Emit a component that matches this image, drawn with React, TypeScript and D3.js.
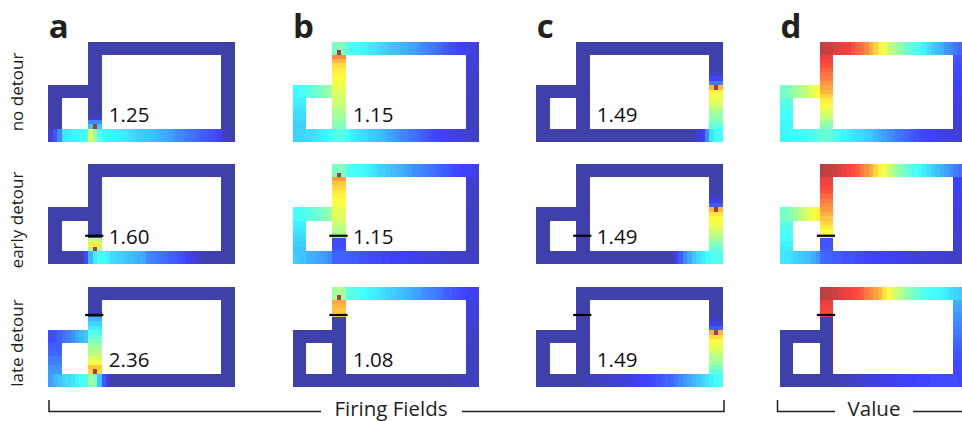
import { useEffect, useRef } from 'react'
import * as d3 from 'd3'

const WIDTH = 962
const HEIGHT = 421
const COLS = 42 // maze grid, in cells
const ROWS = 23
const PANEL_W = 186.5
const PANEL_H = 100
const PANEL_X = [48.3, 292.5, 536.3, 780]
const PANEL_Y = [41.7, 164, 286.7]
const FONT = '"Open Sans", "DejaVu Sans", sans-serif'
const INK = '#231f20'

const MODELS = ['a', 'b', 'c', 'd']
const CONDITIONS = ['no detour', 'early detour', 'late detour']
const SCORES = [
  ['1.25', '1.15', '1.49', null],
  ['1.60', '1.15', '1.49', null],
  ['2.36', '1.08', '1.49', null],
]
// maze row where the detour barrier sits, per condition
const BARRIER_ROW = [null, 16.5, 6.5]

const z = (n: number) => new Array(n).fill(0)

// panel order in every table below: a1 b1 c1 d1, a2 b2 c2 d2, a3 b3 c3 d3
// top corridor, cols 9..41
const TOP = [
  z(33),
  [0.45, 0.47, 0.45, 0.4, 0.39, 0.38, 0.37, 0.36, 0.35, 0.34, 0.33, 0.32, 0.31, 0.3, 0.29, 0.28, 0.27, 0.26, 0.25, 0.24, 0.22, 0.21, 0.2, 0.19, 0.18, 0.16, 0.15, 0.14, 0.13, 0.12, 0.1, 0.08, 0.07],
  z(33),
  [0.96, 0.95, 0.94, 0.92, 0.9, 0.89, 0.88, 0.86, 0.83, 0.81, 0.78, 0.73, 0.69, 0.64, 0.61, 0.56, 0.53, 0.5, 0.47, 0.44, 0.42, 0.4, 0.38, 0.36, 0.33, 0.31, 0.29, 0.27, 0.24, 0.22, 0.2, 0.18, 0.16],
  z(33),
  [0.45, 0.46, 0.45, 0.4, 0.39, 0.38, 0.37, 0.36, 0.35, 0.34, 0.32, 0.31, 0.3, 0.29, 0.28, 0.27, 0.26, 0.25, 0.23, 0.22, 0.21, 0.2, 0.19, 0.18, 0.17, 0.16, 0.15, 0.14, 0.13, 0.12, 0.11, 0.1, 0.09],
  z(33),
  [0.97, 0.96, 0.95, 0.94, 0.92, 0.9, 0.88, 0.86, 0.84, 0.8, 0.77, 0.74, 0.68, 0.64, 0.61, 0.56, 0.52, 0.49, 0.46, 0.43, 0.41, 0.39, 0.37, 0.35, 0.33, 0.31, 0.29, 0.27, 0.25, 0.23, 0.21, 0.19, 0.17],
  z(33),
  [0.5, 0.52, 0.5, 0.42, 0.4, 0.39, 0.38, 0.37, 0.36, 0.35, 0.34, 0.33, 0.32, 0.31, 0.3, 0.29, 0.28, 0.27, 0.26, 0.25, 0.23, 0.22, 0.21, 0.2, 0.19, 0.17, 0.16, 0.15, 0.14, 0.13, 0.12, 0.11, 0.1],
  z(33),
  [0.97, 0.96, 0.95, 0.94, 0.92, 0.9, 0.89, 0.87, 0.86, 0.84, 0.8, 0.78, 0.75, 0.72, 0.66, 0.62, 0.58, 0.55, 0.52, 0.49, 0.46, 0.44, 0.42, 0.4, 0.39, 0.38, 0.37, 0.36, 0.35, 0.33, 0.32, 0.31, 0.3],
]

// middle vertical corridor, rows 3..19 (cols 9..11)
const MID = [
  [...z(14), 0.05, 0.22, 0.3],
  [0.78, 0.72, 0.67, 0.65, 0.64, 0.62, 0.61, 0.6, 0.58, 0.57, 0.56, 0.55, 0.53, 0.51, 0.5, 0.48, 0.46],
  z(17),
  [0.9, 0.88, 0.86, 0.83, 0.81, 0.79, 0.76, 0.74, 0.72, 0.68, 0.65, 0.63, 0.6, 0.57, 0.55, 0.5, 0.47],
  [...z(14), 0.55, 0.65, 0.5],
  [0.75, 0.7, 0.67, 0.65, 0.64, 0.62, 0.61, 0.6, 0.59, 0.58, 0.56, 0.54, 0.52, 0.5, 0.14, 0.14, 0.15],
  z(17),
  [0.9, 0.89, 0.87, 0.85, 0.82, 0.8, 0.78, 0.76, 0.73, 0.7, 0.68, 0.65, 0.63, 0.62, 0.15, 0.15, 0.16],
  [...z(4), 0.28, 0.32, 0.35, 0.4, 0.43, 0.46, 0.5, 0.52, 0.54, 0.58, 0.62, 0.7, 0.68],
  [0.74, 0.72, 0.7, 0.68, ...z(13)],
  z(17),
  [0.9, 0.89, 0.88, 0.87, ...z(13)],
]

// right corridor, rows 3..19 (cols 39..41)
const RIGHT = [
  z(17),
  [0.07, 0.07, 0.06, 0.06, 0.06, 0.05, 0.05, 0.05, 0.05, 0.04, 0.04, 0.04, 0.04, 0.04, 0.03, 0.03, 0.03],
  [...z(4), 0.04, 0.13, 0.2, 0.72, 0.64, 0.61, 0.59, 0.57, 0.53, 0.5, 0.48, 0.45, 0.42],
  [0.15, 0.15, 0.14, 0.14, 0.13, 0.13, 0.12, 0.12, 0.11, 0.1, 0.1, 0.09, 0.08, 0.08, 0.07, 0.07, 0.06],
  z(17),
  [0.06, 0.06, 0.05, 0.05, 0.05, 0.05, 0.04, 0.04, 0.04, 0.04, 0.03, 0.03, 0.03, 0.03, 0.03, 0.03, 0.03],
  [...z(4), 0.03, 0.08, 0.16, 0.72, 0.66, 0.63, 0.61, 0.59, 0.56, 0.53, 0.5, 0.46, 0.43],
  [0.12, 0.12, 0.11, 0.11, 0.1, 0.1, 0.09, 0.09, 0.08, 0.08, 0.07, 0.07, 0.06, 0.06, 0.06, 0.05, 0.05],
  z(17),
  [0.09, 0.08, 0.08, 0.07, 0.07, 0.06, 0.06, 0.05, 0.05, 0.04, 0.04, 0.04, 0.03, 0.03, 0.03, 0.03, 0.03],
  [...z(4), 0.03, 0.08, 0.16, 0.72, 0.67, 0.63, 0.6, 0.58, 0.55, 0.52, 0.5, 0.46, 0.42],
  [0.27, 0.26, 0.25, 0.24, 0.23, 0.22, 0.21, 0.2, 0.19, 0.18, 0.17, 0.16, 0.15, 0.15, 0.14, 0.14, 0.13],
]

// bottom corridor, cols 0..41 (rows 20..22)
const BOTTOM = [
  [0.05, 0.15, 0.22, 0.34, 0.35, 0.36, 0.36, 0.37, 0.38, 0.58, 0.5, 0.4, 0.37, 0.36, 0.36, 0.35, 0.35, 0.34, 0.33, 0.32, 0.31, 0.3, 0.3, 0.29, 0.28, 0.27, 0.26, 0.25, 0.23, 0.22, 0.21, 0.2, 0.19, 0.18, 0.17, 0.16, 0.15, 0.14, 0.12, 0.04, 0.02, 0],
  [0.31, 0.32, 0.32, 0.33, 0.33, 0.34, 0.35, 0.36, 0.37, 0.4, 0.41, 0.4, 0.38, 0.35, 0.34, 0.33, 0.32, 0.31, 0.3, 0.29, 0.28, 0.26, 0.25, 0.24, 0.22, 0.21, 0.2, 0.19, 0.18, 0.16, 0.15, 0.14, 0.13, 0.12, 0.11, 0.09, 0.08, 0.07, 0.06, 0.05, 0.05, 0.04],
  [...z(36), 0.05, 0.12, 0.22, 0.34, 0.37, 0.38],
  [0.36, 0.36, 0.37, 0.37, 0.38, 0.38, 0.39, 0.4, 0.41, 0.43, 0.43, 0.42, 0.4, 0.37, 0.36, 0.35, 0.34, 0.33, 0.32, 0.31, 0.3, 0.28, 0.26, 0.25, 0.23, 0.22, 0.2, 0.19, 0.18, 0.16, 0.15, 0.14, 0.13, 0.12, 0.11, 0.09, 0.08, 0.07, 0.06, 0.06, 0.05, 0.05],
  [...z(8), 0.14, 0.28, 0.35, 0.38, 0.38, 0.36, 0.33, 0.32, 0.31, 0.3, 0.29, 0.28, 0.27, 0.26, 0.22, 0.21, 0.2, 0.19, 0.18, 0.17, 0.16, 0.15, 0.14, 0.12, 0.08, 0.05, 0.03, ...z(7)],
  [0.31, 0.3, 0.3, 0.28, 0.27, 0.26, 0.25, 0.24, 0.22, 0.17, 0.17, 0.17, 0.17, 0.16, 0.16, 0.15, 0.15, 0.14, 0.14, 0.14, 0.13, 0.13, 0.12, 0.12, 0.11, 0.11, 0.1, 0.1, 0.09, 0.09, 0.08, 0.07, 0.07, 0.06, 0.06, 0.05, 0.05, 0.05, 0.04, 0.04, 0.04, 0.04],
  [...z(31), 0.1, 0.16, 0.22, 0.26, 0.3, 0.33, 0.35, 0.37, 0.39, 0.4, 0.4],
  [0.35, 0.34, 0.33, 0.32, 0.31, 0.3, 0.29, 0.27, 0.24, 0.18, 0.17, 0.17, 0.16, 0.16, 0.15, 0.15, 0.15, 0.14, 0.14, 0.13, 0.13, 0.12, 0.12, 0.11, 0.11, 0.1, 0.1, 0.09, 0.09, 0.08, 0.08, 0.07, 0.07, 0.06, 0.06, 0.06, 0.05, 0.05, 0.05, 0.04, 0.04, 0.04],
  [0.25, 0.28, 0.3, 0.32, 0.33, 0.34, 0.36, 0.38, 0.4, 0.5, 0.46, 0.3, 0.16, 0.08, ...z(28)],
  [...z(36), 0.02, 0.02, 0.03, 0.03, 0.03, 0.03],
  [...z(11), 0.03, 0.03, 0.04, 0.04, 0.05, 0.05, 0.06, 0.06, 0.07, 0.08, 0.09, 0.1, 0.11, 0.12, 0.13, 0.14, 0.15, 0.16, 0.17, 0.18, 0.2, 0.22, 0.24, 0.26, 0.28, 0.3, 0.32, 0.34, 0.36, 0.38, 0.39],
  [...z(12), 0.02, 0.03, 0.03, 0.04, 0.05, 0.05, 0.06, 0.07, 0.07, 0.08, 0.08, 0.09, 0.09, 0.1, 0.1, 0.11, 0.11, 0.12, 0.12, 0.13, 0.13, 0.13, 0.14, 0.14, 0.14, 0.14, 0.14, 0.14, 0.13, 0.13],
]

// small loop, top arm cols 0..8 (rows 10..12)
const SMALL_TOP = [
  z(9), [0.37, 0.38, 0.39, 0.41, 0.42, 0.44, 0.46, 0.48, 0.5], z(9), [0.44, 0.45, 0.47, 0.5, 0.52, 0.54, 0.57, 0.6, 0.62],
  z(9), [0.38, 0.38, 0.39, 0.41, 0.42, 0.43, 0.45, 0.47, 0.49], z(9), [0.44, 0.45, 0.47, 0.5, 0.53, 0.56, 0.59, 0.62, 0.64],
  [0.14, 0.15, 0.17, 0.19, 0.21, 0.23, 0.26, 0.28, 0.3], z(9), z(9), z(9),
]

// small loop, left arm rows 13..19 (cols 0..2)
const SMALL_LEFT = [
  z(7), [0.36, 0.35, 0.34, 0.33, 0.33, 0.32, 0.31], z(7), [0.41, 0.4, 0.39, 0.38, 0.38, 0.37, 0.37],
  z(7), [0.36, 0.35, 0.34, 0.33, 0.32, 0.31, 0.3], z(7), [0.41, 0.4, 0.39, 0.38, 0.37, 0.36, 0.35],
  [0.16, 0.17, 0.18, 0.2, 0.21, 0.23, 0.24], z(7), z(7), z(7),
]

// firing-field peak cell [col, row]
const PEAKS = [
  [10, 19], [10, 2], [40, 10], null,
  [10, 19], [10, 2], [40, 10], null,
  [10, 19], [10, 2], [40, 10], null,
]

type Cell = { c: number; r: number; v: number }

function buildCells(k: number): Cell[] {
  const out: Cell[] = []
  const add = (c0: number, c1: number, r0: number, r1: number, f: (c: number, r: number) => number) => {
    for (let r = r0; r <= r1; r++) for (let c = c0; c <= c1; c++) out.push({ c, r, v: f(c, r) })
  }
  add(9, 41, 0, 2, c => TOP[k][c - 9])
  add(39, 41, 3, 19, (c, r) => RIGHT[k][r - 3])
  add(0, 41, 20, 22, c => BOTTOM[k][c])
  add(9, 11, 3, 19, (c, r) => MID[k][r - 3])
  add(0, 8, 10, 12, c => SMALL_TOP[k][c])
  add(0, 2, 13, 19, (c, r) => SMALL_LEFT[k][r - 13])
  const p = PEAKS[k]
  if (p) {
    const hit = out.find(d => d.c === p[0] && d.r === p[1])
    if (hit) hit.v = 1
  }
  return out
}

export default function App() {
  const svgRef = useRef<SVGSVGElement>(null)

  useEffect(() => {
    if (!svgRef.current) return
    const svg = d3.select(svgRef.current)
    svg.selectAll('*').remove()

    // jet colour map, washed with white like the original
    const jet = d3.scaleLinear<string>()
      .domain([0, 0.125, 0.375, 0.625, 0.875, 1])
      .range(['#00008f', '#0000ff', '#00ffff', '#ffff00', '#ff0000', '#800000'])
      .clamp(true)
    const fill = (v: number) => d3.interpolateRgb('#ffffff', jet(v))(0.75)

    CONDITIONS.forEach((cond, ci) => {
      MODELS.forEach((m, mi) => {
        const k = ci * 4 + mi
        const x = d3.scaleLinear().domain([0, COLS]).range([PANEL_X[mi], PANEL_X[mi] + PANEL_W])
        const y = d3.scaleLinear().domain([0, ROWS]).range([PANEL_Y[ci], PANEL_Y[ci] + PANEL_H])
        const g = svg.append('g')

        g.selectAll('rect')
          .data(buildCells(k))
          .join('rect')
          .attr('x', d => x(d.c))
          .attr('y', d => y(d.r))
          .attr('width', d => x(d.c + 1) - x(d.c))
          .attr('height', d => y(d.r + 1) - y(d.r))
          .attr('fill', d => fill(d.v))
          .attr('shape-rendering', 'crispEdges')

        const br = BARRIER_ROW[ci]
        if (br !== null) {
          g.append('line')
            .attr('x1', x(8.3)).attr('x2', x(12.4))
            .attr('y1', y(br)).attr('y2', y(br))
            .attr('stroke', '#000')
            .attr('stroke-width', 2.2)
        }

        const score = SCORES[ci][mi]
        if (score) {
          g.append('text')
            .attr('x', PANEL_X[mi] + 60.5)
            .attr('y', PANEL_Y[ci] + 80)
            .attr('font-family', FONT)
            .attr('font-size', 20.5)
            .attr('fill', '#111')
            .text(score)
        }
      })
    })

    // panel letters
    svg.selectAll('text.letter')
      .data(MODELS)
      .join('text')
      .attr('class', 'letter')
      .attr('x', (_, i) => PANEL_X[i] + 0.5)
      .attr('y', 38.3)
      .attr('font-family', FONT)
      .attr('font-weight', 'bold')
      .attr('font-size', 33)
      .attr('fill', INK)
      .text(d => d)

    // condition labels
    const labelY = [92, 220, 343]
    svg.selectAll('text.cond')
      .data(CONDITIONS)
      .join('text')
      .attr('class', 'cond')
      .attr('transform', (_, i) => `translate(23, ${labelY[i]}) rotate(-90)`)
      .attr('text-anchor', 'middle')
      .attr('font-family', FONT)
      .attr('font-size', 17)
      .attr('fill', INK)
      .text(d => d)

    // brackets along the bottom
    const bracket = svg.append('g')
      .attr('fill', 'none')
      .attr('stroke', INK)
      .attr('stroke-width', 1.5)
    bracket.append('path').attr('d', 'M49,400 V411.5 H321')
    bracket.append('path').attr('d', 'M462,411.5 H724 V400')
    bracket.append('path').attr('d', 'M777.5,400 V411.5 H835')
    bracket.append('path').attr('d', 'M913,411.5 H962')

    const caption = [
      { text: 'Firing Fields', x: 391 },
      { text: 'Value', x: 874 },
    ]
    svg.selectAll('text.caption')
      .data(caption)
      .join('text')
      .attr('class', 'caption')
      .attr('x', d => d.x)
      .attr('y', 416)
      .attr('text-anchor', 'middle')
      .attr('font-family', FONT)
      .attr('font-size', 20.5)
      .attr('fill', INK)
      .text(d => d.text)
  }, [])

  return (
    <svg
      ref={svgRef}
      width={WIDTH}
      height={HEIGHT}
      style={{ position: 'absolute', left: 0, top: 0, background: '#fff' }}
    />
  )
}
